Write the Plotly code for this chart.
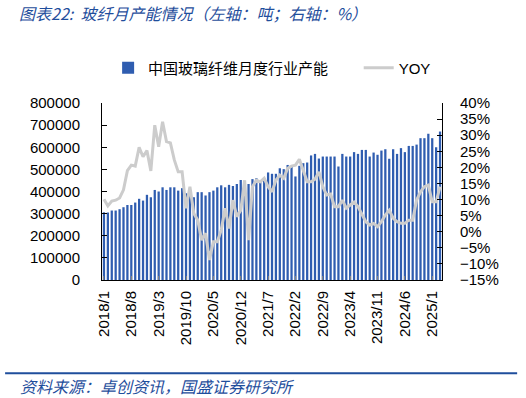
import plotly.graph_objects as go

# months 2018/1 .. 2025/3
months = []
for y in range(2018, 2026):
    for m in range(1, 13):
        if y == 2025 and m > 3:
            break
        months.append(f"{y}/{m}")

capacity = [
    306000, 305000, 314000, 314000, 320000, 329000, 339000, 339000, 350000, 367000,
    359000, 385000, 374000, 407000, 400000, 419000, 407000, 419000, 419000, 404000,
    415000, 392000, 407000, 374000, 397000, 397000, 382000, 397000, 404000, 419000,
    428000, 419000, 430000, 425000, 434000, 452000, 389000, 434000, 456000, 460000,
    449000, 460000, 486000, 480000, 480000, 505000, 501000, 520000, 516000, 468000,
    516000, 528000, 531000, 563000, 570000, 549000, 558000, 558000, 558000, 558000,
    513000, 570000, 558000, 558000, 578000, 570000, 588000, 588000, 558000, 576000,
    566000, 585000, 591000, 548000, 591000, 570000, 596000, 578000, 606000, 606000,
    612000, 641000, 641000, 661000, 641000, 600000, 671000,
]

yoy = [
    10.1, 8.0, 9.5, 9.8, 10.5, 13.0, 19.0, 20.7, 20.4, 26.2,
    23.3, 25.2, 18.9, 33.1, 26.4, 34.2, 28.0, 27.6, 22.3, 18.6,
    18.6, 7.3, 14.0, 5.7, 3.6, -2.6, -0.5, -8.8, -3.1, -3.1,
    0.5, 7.3, 1.0, 9.8, 4.7, 6.7, 16.0, -2.6, 14.0, 16.0,
    15.5, 16.6, 14.0, 12.4, 16.0, 17.6, 16.6, 19.7, 20.4, 20.7,
    22.5, 19.2, 15.5, 15.5, 16.3, 18.6, 14.0, 11.4, 11.7, 7.8,
    7.8, 9.8, 7.3, 8.3, 9.2, 7.8, 5.2, 3.1, 2.1, 2.6,
    1.6, 3.1, 5.2, 6.7, 4.2, 3.1, 2.6, 2.6, 3.6, 3.6,
    9.8, 12.4, 14.0, 14.5, 9.3, 9.3, 14.0,
]

tick_labels = months[::7]

title_text = "图表22:  玻纤月产能情况（左轴：吨；右轴：%）"
source_text = "资料来源：卓创资讯，国盛证券研究所"
blue = "#1f4e9c"

fig = go.Figure()
fig.add_trace(go.Bar(
    x=months, y=capacity, name="中国玻璃纤维月度行业产能",
    marker=dict(color="#2f5db0", line=dict(width=0)),
    yaxis="y", legend="legend",
))
fig.add_trace(go.Scatter(
    x=months, y=yoy, name="YOY", mode="lines",
    line=dict(color="#cccccc", width=3),
    yaxis="y2", legend="legend2",
))

tick_font = dict(family="Liberation Sans, Arial, sans-serif", size=15, color="#000000")
leg_font = dict(family="Noto Sans CJK SC, sans-serif", size=15, color="#000000")

fig.update_layout(
    width=526, height=398,
    margin=dict(l=102, r=84, t=103, b=118, autoexpand=False),
    paper_bgcolor="white", plot_bgcolor="white",
    bargap=0.42,
    showlegend=True,
    legend=dict(
        orientation="h", x=0.018, xanchor="left", y=1.198, yanchor="middle",
        font=leg_font, bgcolor="rgba(0,0,0,0)",
    ),
    legend2=dict(
        orientation="h", x=0.755, xanchor="left", y=1.198, yanchor="middle",
        font=dict(family="Liberation Sans, Arial, sans-serif", size=15, color="#000000"),
        bgcolor="rgba(0,0,0,0)",
    ),
    xaxis=dict(
        type="category", tickmode="array", tickvals=tick_labels, ticktext=tick_labels,
        tickangle=-90, tickfont=tick_font, ticks="inside", ticklen=4, tickcolor="#808080",
        showline=True, linecolor="#000000", linewidth=1, showgrid=False,
        ticklabelstandoff=4,
    ),
    yaxis=dict(
        range=[0, 800000], dtick=100000, tickformat="d", tickfont=tick_font,
        ticks="inside", ticklen=5, tickcolor="#000000",
        showline=True, linecolor="#000000", linewidth=1, showgrid=False,
        ticklabelstandoff=18, zeroline=False,
    ),
    yaxis2=dict(
        range=[-15, 40], dtick=5, ticksuffix="%", tickfont=tick_font,
        overlaying="y", side="right",
        ticks="inside", ticklen=5, tickcolor="#000000",
        showline=True, linecolor="#000000", linewidth=1, showgrid=False,
        ticklabelstandoff=14, zeroline=False,
    ),
    annotations=[
        dict(text=f"<i>{title_text}</i>", xref="paper", yref="paper", x=-0.251, y=1.506,
             xanchor="left", yanchor="middle", showarrow=False,
             font=dict(family="Noto Sans CJK SC, sans-serif", size=16, color=blue)),
        dict(text=f"<i>{source_text}</i>", xref="paper", yref="paper", x=-0.246, y=-0.599,
             xanchor="left", yanchor="middle", showarrow=False,
             font=dict(family="Noto Sans CJK SC, sans-serif", size=16, color=blue)),
    ],
    shapes=[
        dict(type="line", xref="paper", yref="paper", x0=-0.285, x1=1.221, y0=-0.527, y1=-0.527,
             line=dict(color=blue, width=2)),
    ],
)

fig.write_html("out.html", config={"displayModeBar": False},
               post_script="document.body.style.margin='0';")
